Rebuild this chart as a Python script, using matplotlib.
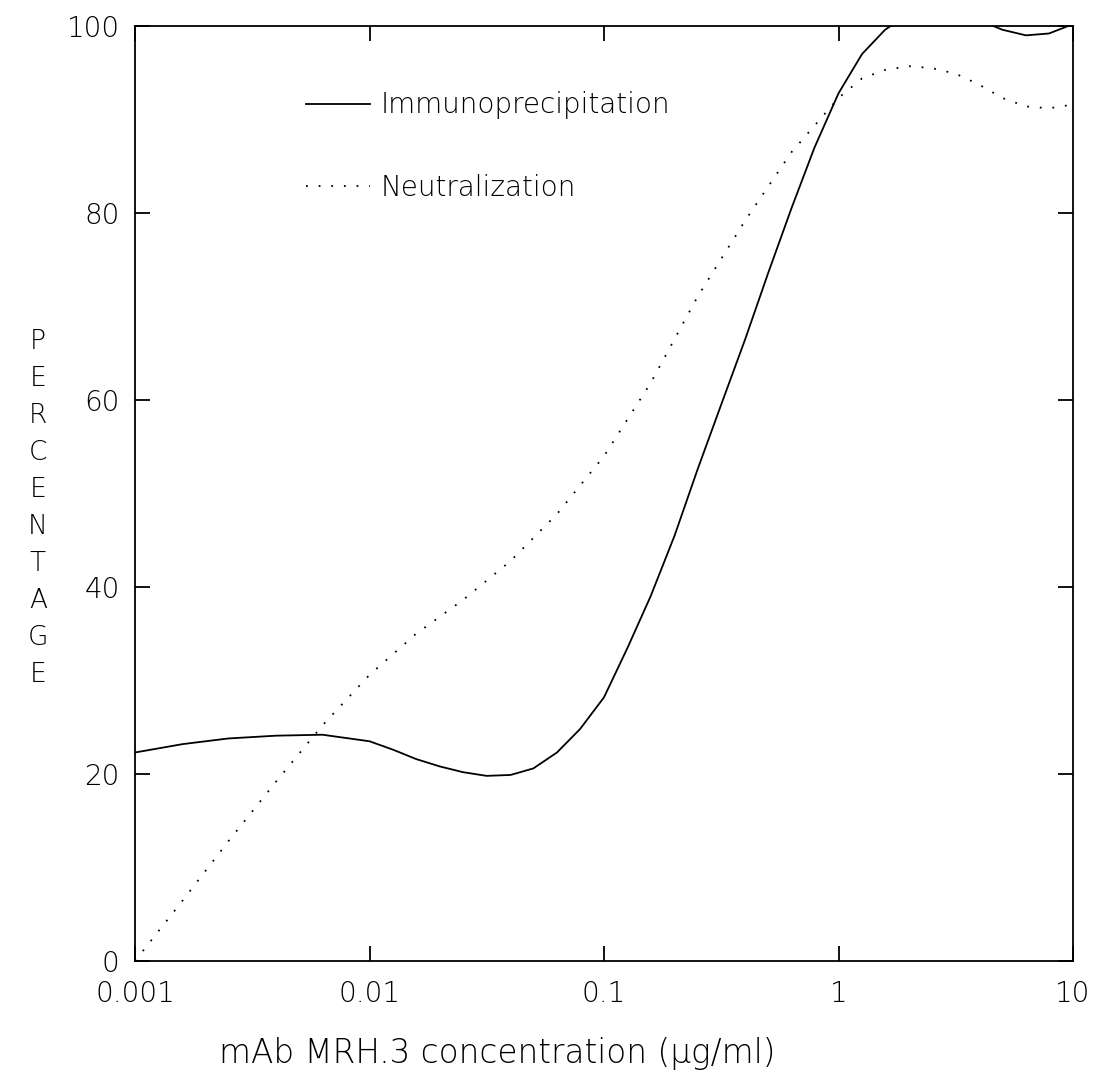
import matplotlib
matplotlib.use("Agg")
import matplotlib.pyplot as plt

plt.rcParams['font.family'] = ['DejaVu Sans']
plt.rcParams['font.weight'] = 'light'

# concentration (ug/ml) and percentage
immuno_conc = [0.001, 0.0016, 0.0025, 0.004, 0.0063, 0.01, 0.0126, 0.0158, 0.02,
               0.025, 0.0316, 0.04, 0.05, 0.063, 0.079, 0.1, 0.126, 0.158, 0.2,
               0.25, 0.316, 0.4, 0.5, 0.63, 0.79, 1.0, 1.26, 1.58, 2.0, 2.5,
               3.16, 4.0, 5.0, 6.3, 7.9, 10.0]
immuno_pct = [22.3, 23.2, 23.8, 24.1, 24.2, 23.5, 22.6, 21.6, 20.8,
              20.2, 19.8, 19.9, 20.6, 22.3, 24.8, 28.2, 33.5, 39.0, 45.5,
              52.5, 59.5, 66.5, 73.5, 80.5, 87.0, 92.8, 97.0, 99.6, 101.3, 102.0,
              101.7, 100.6, 99.6, 99.0, 99.2, 100.2]

neutral_conc = [0.001, 0.0016, 0.0025, 0.004, 0.0063, 0.01, 0.0158, 0.025,
                0.04, 0.063, 0.1, 0.158, 0.25, 0.4, 0.63, 1.0, 1.26, 1.58,
                2.0, 2.5, 3.16, 4.0, 5.0, 6.3, 7.9, 10.0]
neutral_pct = [0.0, 6.5, 12.8, 19.2, 25.2, 30.6, 35.0, 38.6,
               42.8, 47.8, 54.0, 61.8, 71.0, 79.2, 86.5, 92.3, 94.4, 95.3,
               95.7, 95.5, 94.9, 93.7, 92.3, 91.4, 91.2, 91.6]

x_ticks = [0.001, 0.01, 0.1, 1, 10]
x_labels = ['0.001', '0.01', '0.1', '1', '10']
y_ticks = [0, 20, 40, 60, 80, 100]

fig = plt.figure(figsize=(10.95, 10.75), dpi=100)
ax = fig.add_axes([135 / 1095, 1 - 961 / 1075, 938 / 1095, 935 / 1075])

ax.plot(immuno_conc, immuno_pct, color='black', lw=1.3, label='Immunoprecipitation')
ax.plot(neutral_conc, neutral_pct, color='black', lw=1.3, linestyle=(0, (1, 6)),
        label='Neutralization')

ax.set_xscale('log')
ax.set_xlim(0.001, 10)
ax.set_ylim(0, 100)
ax.set_xticks(x_ticks)
ax.set_xticklabels(x_labels)
ax.minorticks_off()
ax.set_yticks(y_ticks)
ax.tick_params(axis='both', direction='in', length=11, width=1.3,
               labelsize=20, top=True, right=True)
ax.tick_params(axis='x', pad=14)
ax.tick_params(axis='y', pad=11)
for sp in ax.spines.values():
    sp.set_linewidth(1.3)

fig.text(497 / 1095, 1 - 1053 / 1075, 'mAb MRH.3 concentration (μg/ml)',
         fontsize=23.5, ha='center', va='center')
fig.text(38 / 1095, 1 - 508 / 1075, '\n'.join('PERCENTAGE'), fontsize=19,
         ha='center', va='center', linespacing=1.6)

ax.legend(loc='upper left', bbox_to_anchor=(0.182, 0.93), frameon=False,
          fontsize=20, handlelength=2.3, handletextpad=0.4, labelspacing=1.95,
          borderpad=0, borderaxespad=0)

fig.savefig('out.png', dpi=100)
